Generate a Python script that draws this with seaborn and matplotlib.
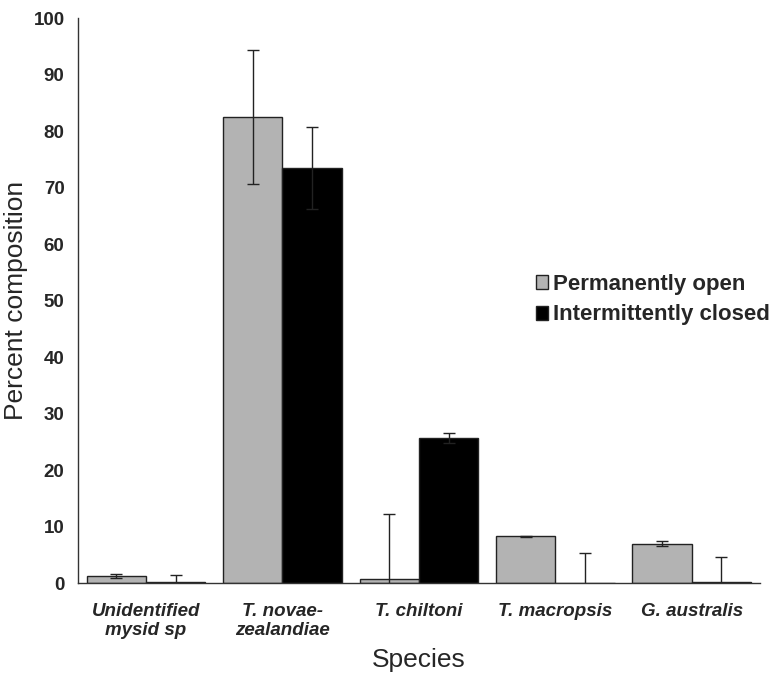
import numpy as np
import pandas as pd
import seaborn as sns
import matplotlib.pyplot as plt

# values
species = ['Unidentified\nmysid sp', 'T. novae-\nzealandiae', 'T. chiltoni',
           'T. macropsis', 'G. australis']
groups = ['Permanently open', 'Intermittently closed']
open_mean = [1.3, 82.5, 0.8, 8.3, 7.0]
open_err = [0.4, 11.8, 11.5, 0.1, 0.5]
closed_mean = [0.3, 73.5, 25.7, 0.0, 0.3]
closed_err = [1.1, 7.3, 0.8, 5.3, 4.4]

df = pd.DataFrame({
    'Species': species * 2,
    'Group': [groups[0]] * 5 + [groups[1]] * 5,
    'Percent': open_mean + closed_mean,
})
errs = open_err + closed_err

sns.set_style('white')
plt.rcParams['font.family'] = ['Liberation Sans', 'DejaVu Sans']

fig = plt.figure(figsize=(7.7, 6.75), dpi=100)
ax = fig.add_axes([0.101, 0.136, 0.886, 0.837])

sns.barplot(data=df, x='Species', y='Percent', hue='Group', order=species,
            hue_order=groups, palette=['#b3b3b3', '#000000'], errorbar=None,
            width=0.87, edgecolor='#222222', linewidth=1.0, ax=ax)

# error bars at the centre of each bar
bars = ax.patches[:10]
for p, e in zip(bars, errs):
    xc = p.get_x() + p.get_width() / 2
    ax.errorbar(xc, p.get_height(), yerr=e, fmt='none', ecolor='#222222',
                elinewidth=1.0, capsize=4.5, capthick=1.0)

ax.set_xlim(-0.5, 4.5)
ax.set_ylim(0, 100)
ax.set_yticks(np.arange(0, 101, 10))
ax.set_xticks(np.arange(-0.5, 4.6, 1.0), minor=True)
ax.tick_params(axis='x', which='major', length=0, pad=14)
ax.tick_params(axis='x', which='minor', length=7, width=1, direction='out',
               color='#333333')
ax.tick_params(axis='y', length=6, width=1, direction='out', color='#333333')
for lab in ax.get_xticklabels():
    lab.set_fontsize(13.5)
    lab.set_fontweight('bold')
    lab.set_fontstyle('italic')
for lab in ax.get_yticklabels():
    lab.set_fontsize(13.5)
    lab.set_fontweight('bold')

for side in ['top', 'right']:
    ax.spines[side].set_visible(False)
for side in ['left', 'bottom']:
    ax.spines[side].set_color('#333333')
    ax.spines[side].set_linewidth(1.0)

ax.set_xlabel('Species', fontsize=19, labelpad=6)
ax.set_ylabel('Percent composition', fontsize=19, labelpad=4)

leg = ax.legend(loc='upper left', bbox_to_anchor=(0.672, 0.547), frameon=False,
                handlelength=0.55, handleheight=0.6, handletextpad=0.2,
                labelspacing=0.42, borderaxespad=0, borderpad=0,
                prop={'size': 16, 'weight': 'bold'})

plt.savefig('out.png', dpi=100)
